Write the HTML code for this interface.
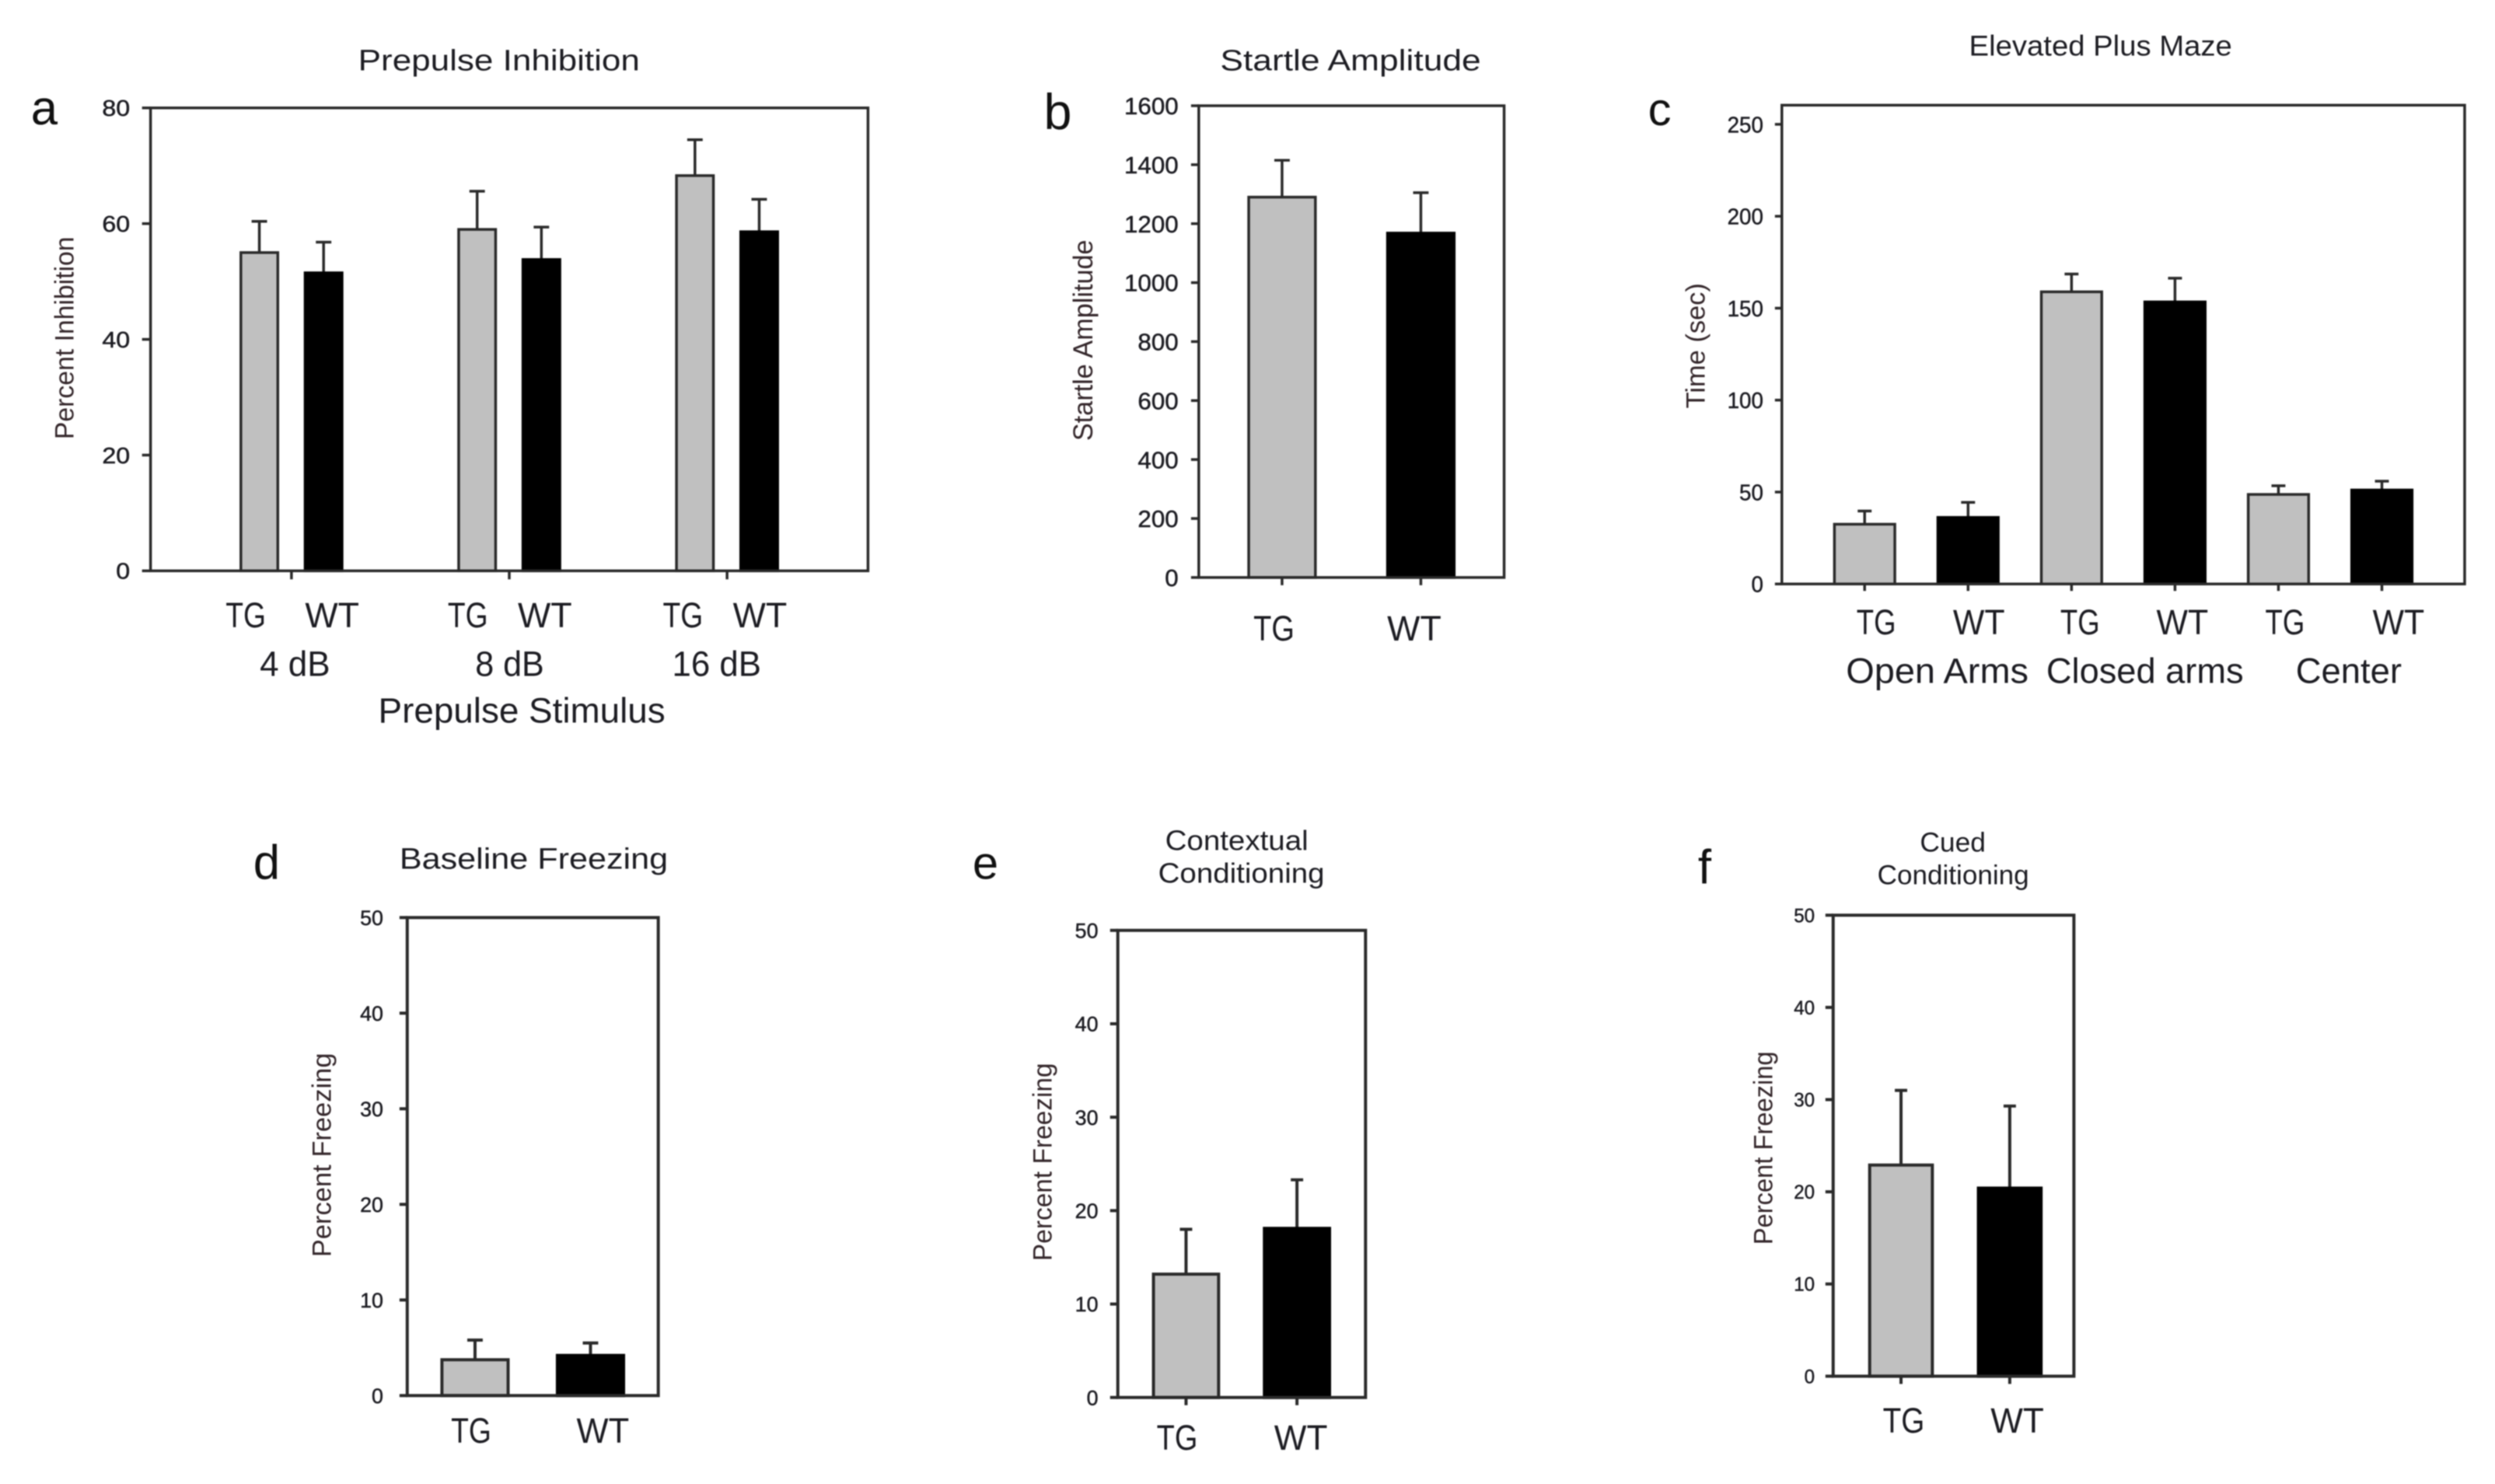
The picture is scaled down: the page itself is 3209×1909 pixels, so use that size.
<!DOCTYPE html>
<html lang="en">
<head>
<meta charset="utf-8">
<title>Behavioral test bar charts</title>
<style>
html,body{margin:0;padding:0;background:#fff;}
#figure{display:block;width:3209px;height:1909px;background:#fff;filter:blur(0.8px);}
text{font-family:"Liberation Sans",Arial,sans-serif;fill:#1c1c22;}
.ytitle{fill:#33262a;}
.letter{fill:#111;}
</style>
</head>
<body>
<svg id="figure" xmlns="http://www.w3.org/2000/svg" width="3209" height="1909" viewBox="0 0 3209 1909">
  <rect x="0" y="0" width="3209" height="1909" fill="#fff"/>

  <g id="panel-a" transform="scale(0.995)">
    <text class="letter" x="40" y="161" font-size="62">a</text>
    <text x="463" y="91" font-size="38" textLength="364" lengthAdjust="spacingAndGlyphs">Prepulse Inhibition</text>
    <text class="ytitle" transform="translate(95,568) rotate(-90)" font-size="34" textLength="262" lengthAdjust="spacingAndGlyphs">Percent Inhibition</text>
    <text x="489" y="934" font-size="46" textLength="371" lengthAdjust="spacingAndGlyphs">Prepulse Stimulus</text>
  </g>

  <g id="panel-b" transform="translate(1250,0) scale(0.995) translate(-1250,0)">
    <text class="letter" x="1343" y="167" font-size="65">b</text>
    <text x="1571" y="91" font-size="38" textLength="337" lengthAdjust="spacingAndGlyphs">Startle Amplitude</text>
    <text class="ytitle" transform="translate(1406,570) rotate(-90)" font-size="35" textLength="260" lengthAdjust="spacingAndGlyphs">Startle Amplitude</text>
  </g>

  <g id="panel-c" transform="translate(2050,0) scale(0.995) translate(-2050,0)">
    <text class="letter" x="2120" y="162" font-size="60">c</text>
    <text x="2535" y="72" font-size="37" textLength="340" lengthAdjust="spacingAndGlyphs">Elevated Plus Maze</text>
    <text class="ytitle" transform="translate(2193,528) rotate(-90)" font-size="34" textLength="162" lengthAdjust="spacingAndGlyphs">Time (sec)</text>
  </g>

  <g id="panel-d" transform="translate(280,1050) scale(0.995) translate(-280,-1050)">
    <text class="letter" x="326" y="1131" font-size="62">d</text>
    <text x="515" y="1118" font-size="38" textLength="347" lengthAdjust="spacingAndGlyphs">Baseline Freezing</text>
    <text class="ytitle" transform="translate(426,1620) rotate(-90)" font-size="34" textLength="264" lengthAdjust="spacingAndGlyphs">Percent Freezing</text>
  </g>

  <g id="panel-e" transform="translate(1220,1040) scale(0.995) translate(-1220,-1040)">
    <text class="letter" x="1251" y="1131" font-size="60">e</text>
    <text x="1500" y="1094" font-size="36" textLength="185" lengthAdjust="spacingAndGlyphs">Contextual</text>
    <text x="1491" y="1136" font-size="36" textLength="215" lengthAdjust="spacingAndGlyphs">Conditioning</text>
    <text class="ytitle" transform="translate(1353,1625) rotate(-90)" font-size="34" textLength="256" lengthAdjust="spacingAndGlyphs">Percent Freezing</text>
  </g>

  <g id="panel-f" transform="translate(2150,1040) scale(0.995) translate(-2150,-1040)">
    <text class="letter" x="2184" y="1137" font-size="62">f</text>
    <text x="2471" y="1096" font-size="35" textLength="85" lengthAdjust="spacingAndGlyphs">Cued</text>
    <text x="2416" y="1138" font-size="35" textLength="196" lengthAdjust="spacingAndGlyphs">Conditioning</text>
    <text class="ytitle" transform="translate(2280,1604) rotate(-90)" font-size="34" textLength="250" lengthAdjust="spacingAndGlyphs">Percent Freezing</text>
  </g>
</svg>

<script>
// ---- Panel a: Prepulse Inhibition ----
const aGroups = ['4 dB', '8 dB', '16 dB'];
const aSeries = ['TG', 'WT'];
const aTgMeans = [55, 59, 68.3];
const aWtMeans = [51.5, 53.8, 58.6];
const aTgErrorTops = [60.4, 65.6, 74.5];
const aWtErrorTops = [56.8, 59.4, 64.2];
const aTicks = [0, 20, 40, 60, 80];

// ---- Panel b: Startle Amplitude ----
const bSeries = ['TG', 'WT'];
const bTgMeans = [1290];
const bWtMeans = [1168];
const bTgErrorTops = [1415];
const bWtErrorTops = [1305];
const bTicks = [0, 200, 400, 600, 800, 1000, 1200, 1400, 1600];

// ---- Panel c: Elevated Plus Maze ----
const cGroups = ['Open Arms', 'Closed arms', 'Center'];
const cSeries = ['TG', 'WT'];
const cTgMeans = [32.5, 158.9, 48.7];
const cWtMeans = [36.2, 153.4, 51.1];
const cTgErrorTops = [39.7, 168.6, 53.4];
const cWtErrorTops = [44.4, 166.3, 55.9];
const cTicks = [0, 50, 100, 150, 200, 250];

// ---- Panel d: Baseline Freezing ----
const dSeries = ['TG', 'WT'];
const dTgMeans = [3.75];
const dWtMeans = [4.2];
const dTgErrorTops = [5.8];
const dWtErrorTops = [5.5];
const dTicks = [0, 10, 20, 30, 40, 50];

// ---- Panel e: Contextual Conditioning ----
const eSeries = ['TG', 'WT'];
const eTgMeans = [13.2];
const eWtMeans = [18.1];
const eTgErrorTops = [18];
const eWtErrorTops = [23.3];
const eTicks = [0, 10, 20, 30, 40, 50];

// ---- Panel f: Cued Conditioning ----
const fSeries = ['TG', 'WT'];
const fTgMeans = [22.9];
const fWtMeans = [20.4];
const fTgErrorTops = [31];
const fWtErrorTops = [29.3];
const fTicks = [0, 10, 20, 30, 40, 50];

const SVG_NS = 'http://www.w3.org/2000/svg';
const AXIS_COLOR = '#2a2a2a';

function mk(parent, tag, attrs, content) {
  const node = document.createElementNS(SVG_NS, tag);
  for (const key in attrs) {
    node.setAttribute(key, attrs[key]);
  }
  if (content !== undefined) {
    node.textContent = content;
  }
  parent.appendChild(node);
  return node;
}

function drawPanel(cfg) {
  const root = document.getElementById(cfg.id);
  const box = cfg.box;
  const xScale = v => box.x0 + (v - cfg.xDomain[0]) / (cfg.xDomain[1] - cfg.xDomain[0]) * (box.x1 - box.x0);
  const yScale = v => box.y1 - (v - cfg.yDomain[0]) / (cfg.yDomain[1] - cfg.yDomain[0]) * (box.y1 - box.y0);
  const groupCount = cfg.tg.length;
  const groupCenter = i => cfg.groupStart + cfg.groupStep * i;
  const barCenter = (i, s) => groupCenter(i) + (s === 0 ? -cfg.offset : cfg.offset);
  const strokeW = cfg.lineWidth;

  // bars and error bars
  for (let s = 0; s < 2; s++) {
    const means = s === 0 ? cfg.tg : cfg.wt;
    const tops = s === 0 ? cfg.tgTop : cfg.wtTop;
    for (let i = 0; i < groupCount; i++) {
      const cx = xScale(barCenter(i, s));
      const halfW = (xScale(cfg.barWidth) - xScale(0)) / 2;
      const top = yScale(means[i]);
      const errTop = yScale(tops[i]);

      const stem = mk(root, 'line', {x1: cx, x2: cx, y1: errTop, y2: top, stroke: AXIS_COLOR, 'stroke-width': strokeW});
      
      

      const cap = mk(root, 'line', {x1: cx - cfg.capHalf, x2: cx + cfg.capHalf, y1: errTop, y2: errTop, stroke: AXIS_COLOR, 'stroke-width': strokeW});
      
      

      const bar = mk(root, 'rect', {
        x: cx - halfW + strokeW / 2,
        y: top,
        width: 2 * halfW - strokeW,
        height: yScale(0) - top,
        fill: s === 0 ? '#c0c0c0' : '#000',
        stroke: s === 0 ? AXIS_COLOR : '#000',
        'stroke-width': strokeW
      });
      
      

      // category label under the bar
      const lab = cfg.labels;
      const idx = i * 2 + s;
      const labelW = s === 0 ? lab.tgWidth : lab.wtWidth;
      const label = mk(root, 'text', {
        x: cx + lab.dx[idx] - labelW / 2,
        y: lab.y,
        'font-size': lab.size,
        textLength: labelW,
        lengthAdjust: 'spacingAndGlyphs'
      }, cfg.series[s]);
      
      

      if (cfg.xTicks === 'bar') {
        const xt = mk(root, 'line', {x1: cx, x2: cx, y1: box.y1, y2: box.y1 + cfg.tickLen, stroke: AXIS_COLOR, 'stroke-width': strokeW});
        
        
      }
    }
  }

  // group labels
  if (cfg.groups) {
    cfg.groups.forEach((name, i) => {
      const cx = xScale(groupCenter(i));
      const spec = cfg.groupLabels;
      const groupLabel = mk(root, 'text', {
        x: cx + spec.dx[i] - spec.widths[i] / 2,
        y: spec.y,
        'font-size': spec.size,
        textLength: spec.widths[i],
        lengthAdjust: 'spacingAndGlyphs'
      }, name);
      
      

      if (cfg.xTicks === 'group') {
        const gt = mk(root, 'line', {x1: cx, x2: cx, y1: box.y1, y2: box.y1 + cfg.tickLen, stroke: AXIS_COLOR, 'stroke-width': strokeW});
        
        
      }
    });
  }

  // plot frame
  const frame = mk(root, 'rect', {x: box.x0, y: box.y0, width: box.x1 - box.x0, height: box.y1 - box.y0, fill: 'none', stroke: AXIS_COLOR, 'stroke-width': strokeW});
  
  

  // y ticks and labels
  cfg.ticks.forEach(t => {
    const y = yScale(t);
    const tick = mk(root, 'line', {x1: box.x0 - cfg.tickLen, x2: box.x0, y1: y, y2: y, stroke: AXIS_COLOR, 'stroke-width': strokeW});
    
    

    const str = String(t);
    const tickLabel = mk(root, 'text', {
      x: cfg.tickRight,
      y: y + cfg.tickSize * 0.36,
      'font-size': cfg.tickSize,
      'text-anchor': 'end',
      'stroke': '#1c1c22',
      'stroke-width': 0.5,
      textLength: str.length * cfg.digitWidth,
      lengthAdjust: 'spacingAndGlyphs'
    }, str);
    
    
  });
}

drawPanel({
  id: 'panel-a', series: aSeries, groups: aGroups,
  tg: aTgMeans, wt: aWtMeans, tgTop: aTgErrorTops, wtTop: aWtErrorTops, ticks: aTicks,
  box: {x0: 194.6, x1: 1122, y0: 139.5, y1: 738},
  xDomain: [0.353, 3.647], yDomain: [0, 80],
  groupStart: 1, groupStep: 1, offset: 0.1475, barWidth: 0.182, capHalf: 10,
  lineWidth: 3.5, tickLen: 11, xTicks: 'group',
  tickRight: 168, tickSize: 29, digitWidth: 18,
  labels: {y: 811, size: 46, tgWidth: 52, wtWidth: 70, dx: [-17.5, 11, -12, 4.5, -15.5, 1]},
  groupLabels: {y: 874, size: 46, dx: [4.5, 0.5, -13.5], widths: [91, 89, 115]}
});

drawPanel({
  id: 'panel-b', series: bSeries,
  tg: bTgMeans, wt: bWtMeans, tgTop: bTgErrorTops, wtTop: bWtErrorTops, ticks: bTicks,
  box: {x0: 1543.3, x1: 1938, y0: 136.7, y1: 746.6},
  xDomain: [0.4, 2.6], yDomain: [0, 1600],
  groupStart: 1.5, groupStep: 1, offset: 0.5, barWidth: 0.5, capHalf: 10,
  lineWidth: 3.5, tickLen: 10, xTicks: 'bar',
  tickRight: 1517, tickSize: 31, digitWidth: 17.5,
  labels: {y: 828, size: 46, tgWidth: 53, wtWidth: 70, dx: [-10.5, -8.5]}
});

drawPanel({
  id: 'panel-c', series: cSeries, groups: cGroups,
  tg: cTgMeans, wt: cWtMeans, tgTop: cTgErrorTops, wtTop: cWtErrorTops, ticks: cTicks,
  box: {x0: 2293, x1: 3175.6, y0: 136, y1: 755},
  xDomain: [0.2, 6.8], yDomain: [0, 260.4],
  groupStart: 1.5, groupStep: 2, offset: 0.5, barWidth: 0.61, capHalf: 9,
  lineWidth: 3.5, tickLen: 9, xTicks: 'bar',
  tickRight: 2269, tickSize: 29, digitWidth: 15.5,
  labels: {y: 820, size: 46, tgWidth: 51, wtWidth: 67, dx: [15, 14, 11, 9.5, 8.5, 21.5]},
  groupLabels: {y: 883, size: 46, dx: [27, 28, 24], widths: [236, 255, 137]}
});

drawPanel({
  id: 'panel-d', series: dSeries,
  tg: dTgMeans, wt: dWtMeans, tgTop: dTgErrorTops, wtTop: dWtErrorTops, ticks: dTicks,
  box: {x0: 525, x1: 849.5, y0: 1181, y1: 1799},
  xDomain: [0.413, 2.587], yDomain: [0, 50],
  groupStart: 1.5, groupStep: 1, offset: 0.5, barWidth: 0.6, capHalf: 10,
  lineWidth: 4, tickLen: 10, xTicks: 'none',
  tickRight: 494, tickSize: 27, digitWidth: 15,
  labels: {y: 1860, size: 46, tgWidth: 52, wtWidth: 68, dx: [-5, 16]}
});

drawPanel({
  id: 'panel-e', series: eSeries,
  tg: eTgMeans, wt: eWtMeans, tgTop: eTgErrorTops, wtTop: eWtErrorTops, ticks: eTicks,
  box: {x0: 1438.8, x1: 1759, y0: 1197.6, y1: 1801.5},
  xDomain: [0.385, 2.618], yDomain: [0, 50],
  groupStart: 1.5, groupStep: 1, offset: 0.5, barWidth: 0.615, capHalf: 8,
  lineWidth: 4, tickLen: 10, xTicks: 'bar',
  tickRight: 1413.5, tickSize: 27, digitWidth: 15,
  labels: {y: 1869, size: 46, tgWidth: 53, wtWidth: 69, dx: [-11.5, 5]}
});

drawPanel({
  id: 'panel-f', series: fSeries,
  tg: fTgMeans, wt: fWtMeans, tgTop: fTgErrorTops, wtTop: fWtErrorTops, ticks: fTicks,
  box: {x0: 2358.8, x1: 2670, y0: 1178, y1: 1774},
  xDomain: [0.376, 2.59], yDomain: [0, 50],
  groupStart: 1.5, groupStep: 1, offset: 0.5, barWidth: 0.605, capHalf: 8,
  lineWidth: 4, tickLen: 10, xTicks: 'bar',
  tickRight: 2335, tickSize: 25, digitWidth: 13.5,
  labels: {y: 1847, size: 46, tgWidth: 54, wtWidth: 69, dx: [3.5, 9.75]}
});
</script>
</body>
</html>
